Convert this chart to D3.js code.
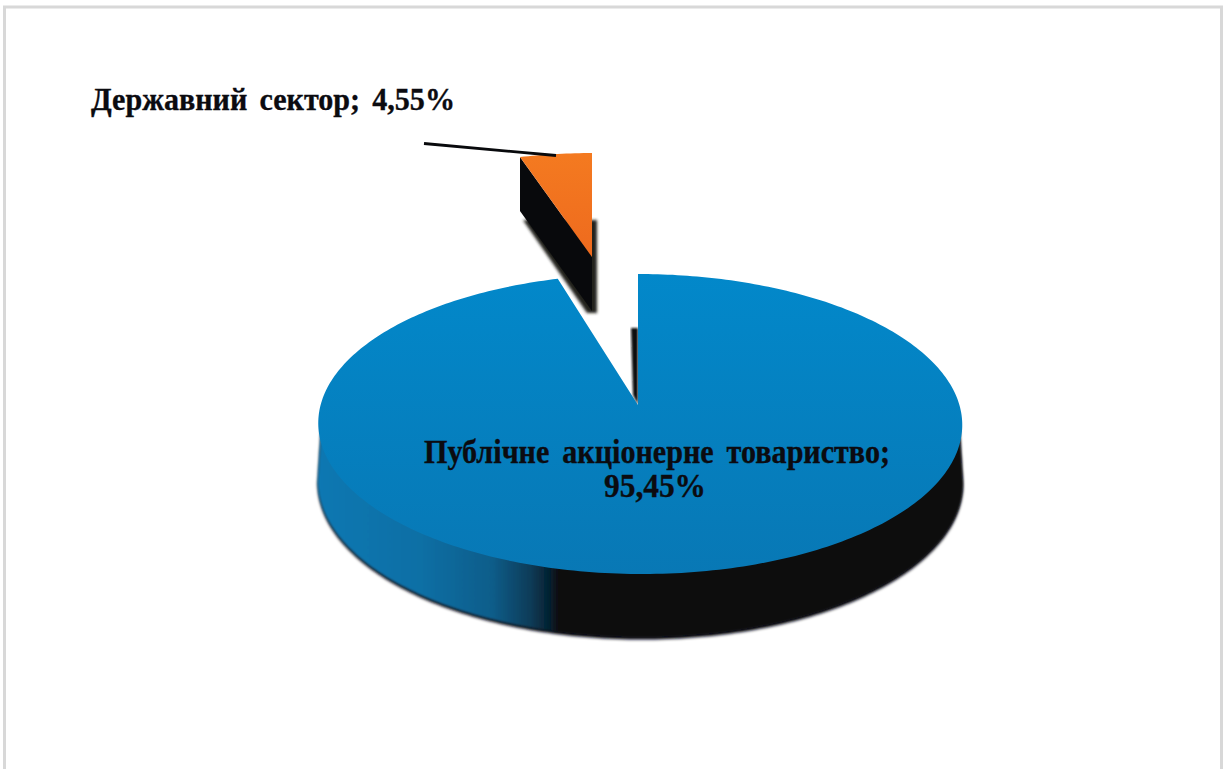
<!DOCTYPE html>
<html>
<head>
<meta charset="utf-8">
<script src="https://cdn.jsdelivr.net/npm/d3@7"></script>
<style>
  html, body { margin: 0; padding: 0; background: #fff; overflow: hidden; }
  text { font-family: "Liberation Serif", serif; font-weight: bold; fill: #0b0b10; stroke: #0b0b10; stroke-width: 0.35; }
</style>
</head>
<body>
<svg id="chart"></svg>
<script>
"use strict";

const categories = ["Державний сектор", "Публічне акціонерне товариство"];
const values = [4.55, 95.45];

const width = 1223, height = 769;
const deg = Math.PI / 180;

// perspective disc: k squeezes the far side, one set for each slice because the small one is pulled away
const discs = [
  { cx: 592, cy: 257, rx: 272, ry: 111, k: 0.068, depth: 54, spread: 0, shear: 0 },
  { cx: 638, cy: 405, rx: 319.4, ry: 147.6, k: 0.1267, depth: 58, spread: 6, shear: 2 }
];

function project(d, a, z) {
  const u = Math.sin(a), v = Math.cos(a), w = 1 + d.k * v;
  return [
    d.cx + d.rx * u / w * (1 + z * 0.002) + d.shear * (1 - v),
    d.cy - d.ry * v / w + z * (d.depth - d.spread * v)
  ];
}

function arcPoints(d, a0, a1, z) {
  const n = Math.max(2, Math.ceil(Math.abs(a1 - a0) / deg));
  return d3.range(n + 1).map(i => project(d, a0 + (a1 - a0) * i / n, z));
}

const chart = d3.select("#chart").attr("width", width).attr("height", height)
  .style("display", "block");
const line = d3.line();
const defs = chart.append("defs");

defs.append("filter").attr("id", "soft").attr("x", "-10%").attr("y", "-10%")
  .attr("width", "120%").attr("height", "120%")
  .append("feGaussianBlur").attr("stdDeviation", 1.2);
defs.append("filter").attr("id", "softer").attr("x", "-40%").attr("y", "-20%")
  .attr("width", "180%").attr("height", "140%")
  .append("feGaussianBlur").attr("stdDeviation", 1.5);

const topFill = defs.append("linearGradient").attr("id", "topFill")
  .attr("gradientUnits", "userSpaceOnUse")
  .attr("x1", 0).attr("x2", 0).attr("y1", 274).attr("y2", 574);
topFill.append("stop").attr("offset", 0).attr("stop-color", "#0288ca");
topFill.append("stop").attr("offset", 1).attr("stop-color", "#0878b5");

const wallFill = defs.append("linearGradient").attr("id", "wallFill")
  .attr("gradientUnits", "userSpaceOnUse")
  .attr("x1", 318).attr("x2", 962).attr("y1", 0).attr("y2", 0);
[[0, "#0a78b2"], [0.16, "#0a6fa5"], [0.27, "#0a5d8a"], [0.33, "#083c58"],
 [0.36, "#06202f"], [0.375, "#090a0e"], [1, "#090a0e"]].forEach(s => {
  wallFill.append("stop").attr("offset", s[0]).attr("stop-color", s[1]);
});

const orangeFill = defs.append("linearGradient").attr("id", "orangeFill")
  .attr("gradientUnits", "userSpaceOnUse")
  .attr("x1", 0).attr("x2", 0).attr("y1", 153).attr("y2", 257);
orangeFill.append("stop").attr("offset", 0).attr("stop-color", "#f47a20");
orangeFill.append("stop").attr("offset", 1).attr("stop-color", "#ee6a1e");

// frame, its bottom runs off the page
chart.append("rect")
  .attr("x", 4.5).attr("y", 7).attr("width", 1217).attr("height", 790)
  .attr("fill", "#fff").attr("stroke", "#d8d8d8").attr("stroke-width", 3);

const slices = d3.pie().sort(null)
  .startAngle(-2 * Math.PI * values[0] / d3.sum(values))
  .endAngle(2 * Math.PI - 2 * Math.PI * values[0] / d3.sum(values))(values);

// small slice
const small = slices[0], smallDisc = discs[0];
const smallRim = arcPoints(smallDisc, small.startAngle, small.endAngle, 0);
const apex0 = project({ ...smallDisc, rx: 0, ry: 0 }, 0, 0);
const apex1 = project({ ...smallDisc, rx: 0, ry: 0 }, 0, 1);
const rimStart = smallRim[0];

// soft dark halo behind the side wall and to the right of the slice
chart.append("path")
  .attr("d", line([
    [rimStart[0] + 3, rimStart[1] + 63], [apex0[0] + 5, apex0[1] - 37],
    [apex0[0] + 5, apex1[1] + 2], [apex1[0] - 5, apex1[1] + 2]
  ]) + "Z")
  .attr("fill", "#22201f").attr("filter", "url(#softer)");
chart.append("path")
  .attr("d", line([
    rimStart, apex0, apex1, [rimStart[0], rimStart[1] + smallDisc.depth]
  ]) + "Z")
  .attr("fill", "#08090c");
chart.append("path")
  .attr("d", line([apex0, ...smallRim]) + "Z")
  .attr("fill", "url(#orangeFill)");

// big slice
const big = slices[1], bigDisc = discs[1];
const sideA = Math.acos(-bigDisc.k);
const innerDisc = { ...bigDisc, rx: bigDisc.rx * 0.99, ry: bigDisc.ry * 0.9 };
const wallTop = arcPoints(innerDisc, sideA, 2 * Math.PI - sideA, 0);
const wallBottom = arcPoints(bigDisc, 2 * Math.PI - sideA, sideA, 1);
const wallPath = line([...wallTop, ...wallBottom]) + "Z";

// dark fringe along the outer edge of the wall
chart.append("path")
  .attr("d", wallPath)
  .attr("transform", "translate(0,1.5)")
  .attr("fill", "#0a0c12").attr("filter", "url(#softer)");
chart.append("path")
  .attr("d", wallPath)
  .attr("transform", "translate(0,-1)")
  .attr("fill", "url(#wallFill)").attr("filter", "url(#soft)");

// the cut wall seen through the gap
const apexBig = project({ ...bigDisc, rx: 0, ry: 0 }, 0, 0);
chart.append("path")
  .attr("d", line([
    [apexBig[0] - 7, apexBig[1] - 77], [apexBig[0], apexBig[1] - 77],
    [apexBig[0], apexBig[1]], [apexBig[0] - 5, apexBig[1] - 10]
  ]) + "Z")
  .attr("fill", "#111").attr("filter", "url(#soft)");

chart.append("path")
  .attr("d", line([apexBig, ...arcPoints(bigDisc, big.startAngle, big.endAngle, 0)]) + "Z")
  .attr("fill", "url(#topFill)");

// leader line
chart.append("line")
  .attr("x1", 424).attr("y1", 143.5).attr("x2", 556).attr("y2", 155.5)
  .attr("stroke", "#08090c").attr("stroke-width", 2.8);

const pct = v => String(v).replace(".", ",") + "%";

chart.append("text")
  .attr("x", 91).attr("y", 110)
  .attr("font-size", 32).attr("word-spacing", 5)
  .attr("textLength", 364).attr("lengthAdjust", "spacingAndGlyphs")
  .text(categories[0] + "; " + pct(values[0]));

chart.append("text")
  .attr("x", 424).attr("y", 463)
  .attr("font-size", 33).attr("word-spacing", 6)
  .attr("textLength", 466).attr("lengthAdjust", "spacingAndGlyphs")
  .text(categories[1] + ";");

chart.append("text")
  .attr("x", 655).attr("y", 497)
  .attr("font-size", 33).attr("text-anchor", "middle")
  .attr("textLength", 102).attr("lengthAdjust", "spacingAndGlyphs")
  .text(pct(values[1]));
</script>
</body>
</html>
